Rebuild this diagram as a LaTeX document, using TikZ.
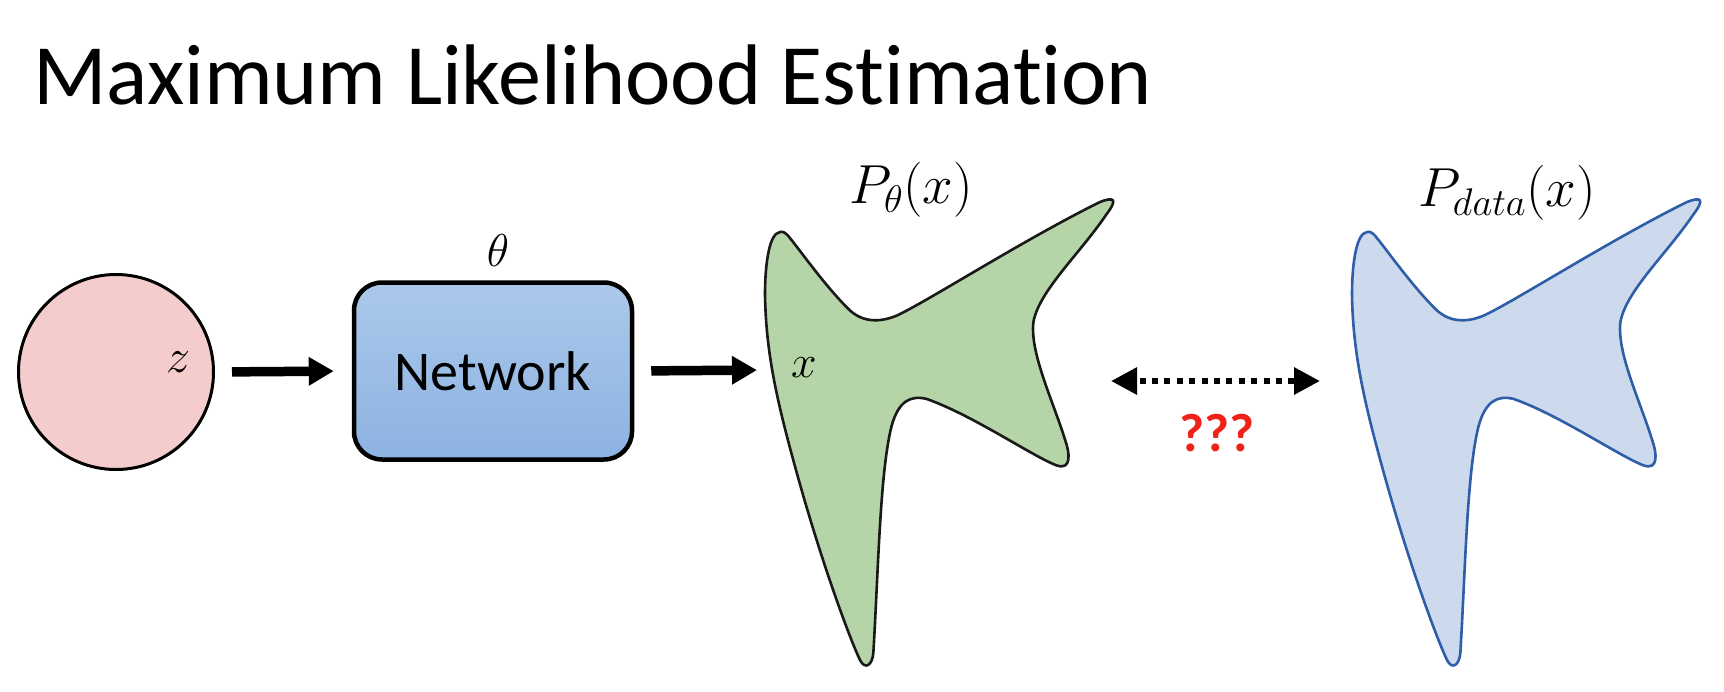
\RequirePackage{fix-cm}
\documentclass[tikz,border=0pt]{standalone}
\usepackage{fontspec}
\setmainfont{Carlito}[Ligatures=NoCommon]
\usetikzlibrary{arrows.meta,shapes.geometric}
\definecolor{pinkfill}{RGB}{244,204,204}
\definecolor{greenfill}{RGB}{181,212,167}
\definecolor{bluefill}{RGB}{205,217,236}
\definecolor{blueline}{RGB}{46,94,168}
\definecolor{nettop}{RGB}{170,200,234}
\definecolor{netbot}{RGB}{141,179,226}
\definecolor{qred}{RGB}{238,34,24}
\tikzset{
  blob/.pic={
    \draw[pic actions,xscale=1/3,yscale=1/2.904]
      (118,268) .. controls (90,272) and (75,350) .. (75,450)
      .. controls (78,620) and (110,760) .. (180,1000)
      .. controls (250,1240) and (330,1450) .. (360,1510)
      .. controls (375,1540) and (397,1525) .. (400,1490)
      .. controls (415,1250) and (420,960) .. (455,830)
      .. controls (475,760) and (510,740) .. (560,752)
      .. controls (700,800) and (880,920) .. (950,945)
      .. controls (995,960) and (990,910) .. (975,870)
      .. controls (940,760) and (870,620) .. (880,530)
      .. controls (895,440) and (1020,330) .. (1100,215)
      .. controls (1135,170) and (1120,165) .. (1080,180)
      .. controls (850,290) and (560,470) .. (470,510)
      .. controls (420,530) and (370,530) .. (330,495)
      .. controls (260,430) and (180,320) .. (150,285)
      .. controls (135,265) and (125,265) .. (118,268) -- cycle;
  },
  bigarrow/.style={line width=9.5pt,-{Triangle[length=25pt,width=27pt]}},
  dotarrow/.style={line width=6pt,dash pattern=on 6pt off 6.4pt,dash phase=-4pt,
    {Triangle[length=26pt,width=26pt]}-{Triangle[length=26pt,width=26pt]}},
  mathlbl/.style={font=\fontsize{55}{60}\selectfont,inner sep=0pt},
}
\begin{document}
\begin{tikzpicture}[x=1pt,y=-1pt]
\path[use as bounding box] (0,0) rectangle (1724,691);
\node[anchor=base west,font=\fontsize{86}{90}\selectfont,inner sep=0pt] (title) at (33,104) {Maximum Likelihood Estimation};
% latent circle
\node[draw=black,line width=3pt,fill=pinkfill,circle,minimum size=195pt,inner sep=0pt] (zc) at (116,372) {};
\node[inner sep=0pt,font=\fontsize{48}{52}\selectfont] (z) at (178,362) {$z$};
% network
\node[draw=black,line width=4.5pt,rounded corners=28pt,top color=nettop,bottom color=netbot,minimum width=278pt,minimum height=177pt,font=\fontsize{56}{60}\selectfont] (net) at (493,371) {Network};
\node[inner sep=0pt,font=\fontsize{46}{50}\selectfont] (theta) at (498,251) {$\theta$};
% shapes
\pic[fill=greenfill,draw=black!90,line width=2.6pt] (gs) at (740,140) {blob};
\pic[fill=bluefill,draw=blueline,line width=2.6pt] (bs) at (1327,140) {blob};
\coordinate (gl) at (768,370);
\coordinate (gr) at (1111,381);
\coordinate (bl) at (1320,381);
\node[inner sep=0pt,font=\fontsize{46}{50}\selectfont] (x) at (804,368) {$x$};
\node[mathlbl] (pth) at (911,190) {$P_{\theta}(x)$};
\node[mathlbl] (pdata) at (1507,193) {$P_{data}(x)$};
% arrows
\draw[bigarrow,shorten <=17pt,shorten >=18pt] (zc.east) -- (net.west);
\draw[bigarrow,shorten <=17pt,shorten >=11pt] (net.east) -- (gl);
\draw[dotarrow] (gr) -- (bl);
\node[font=\fontsize{54}{58}\selectfont\bfseries,text=qred,inner sep=0pt] (q) at (1217,433) {???};
\end{tikzpicture}
\end{document}
